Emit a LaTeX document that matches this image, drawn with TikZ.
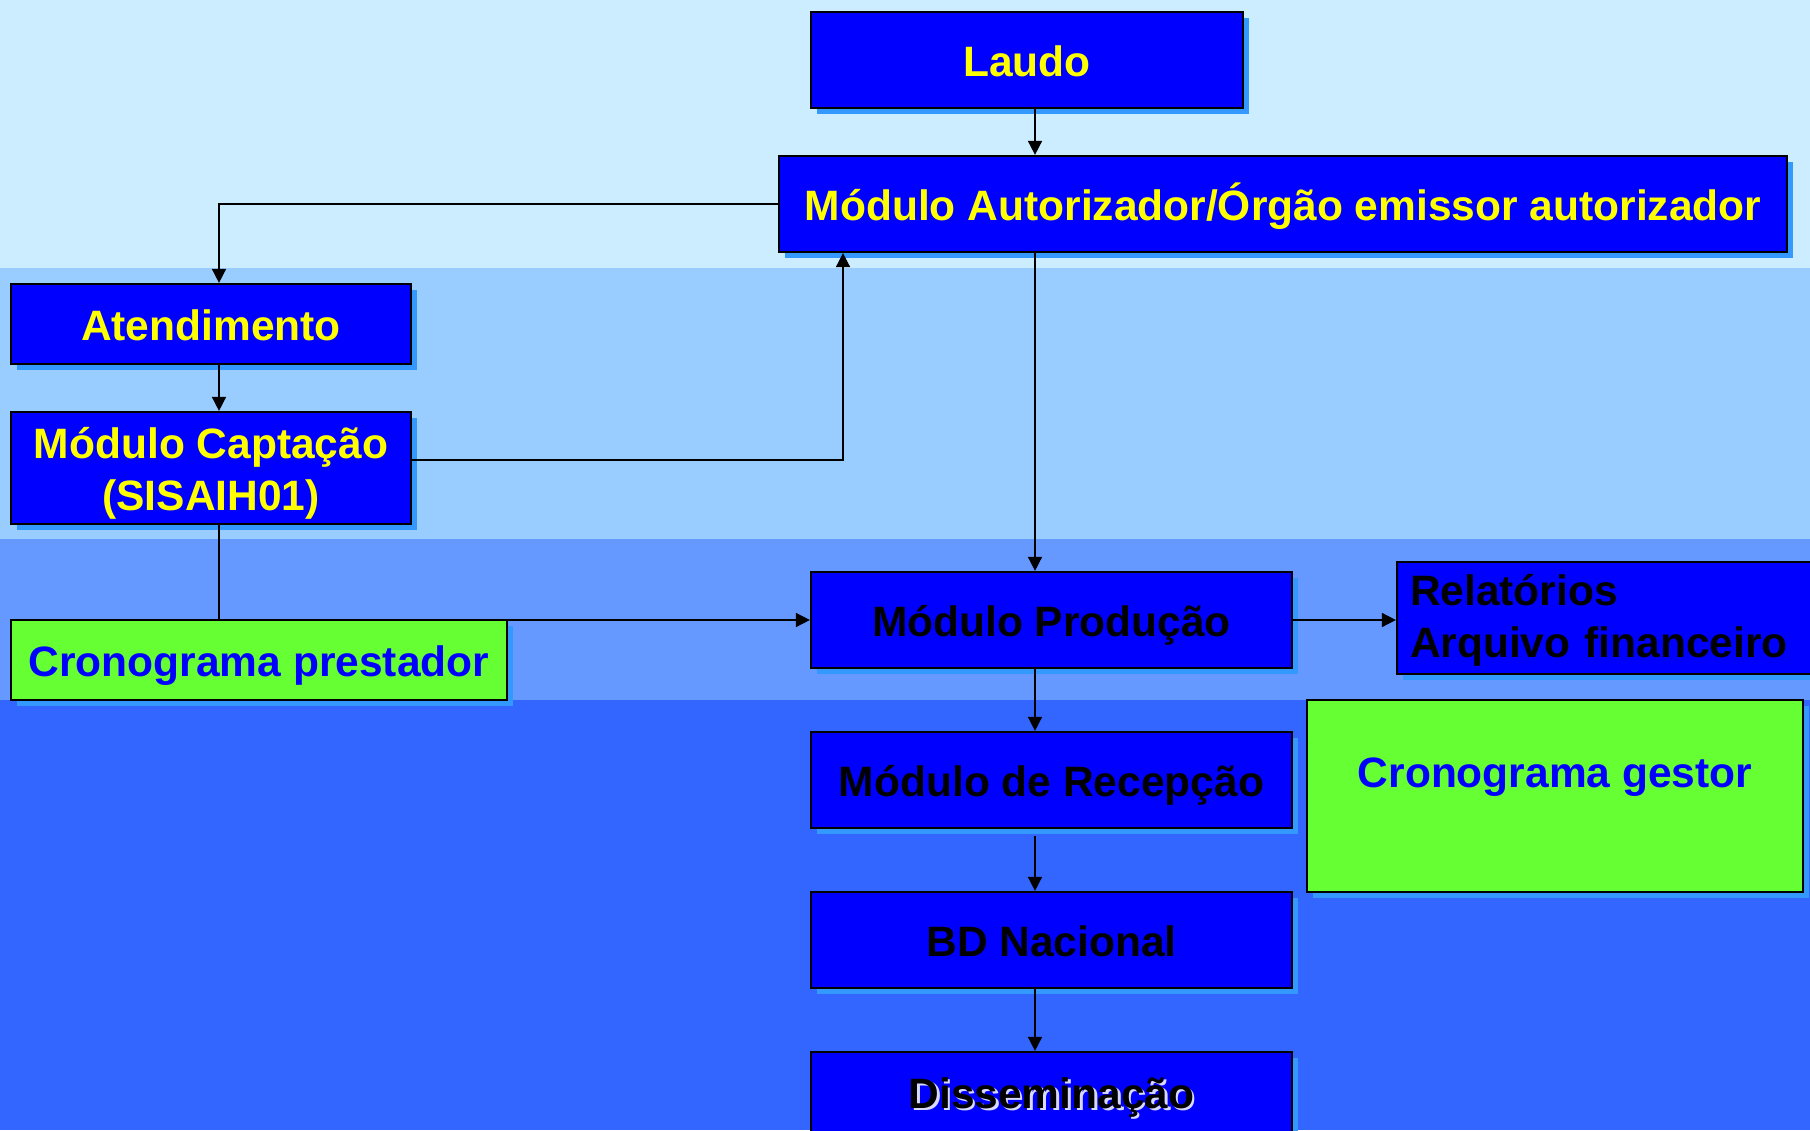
\documentclass[tikz,border=0pt]{standalone}
\usepackage{fontspec}
\setmainfont{Liberation Sans}
\usetikzlibrary{arrows.meta,shadows}
\definecolor{band1}{HTML}{CCECFF}
\definecolor{band2}{HTML}{99CCFF}
\definecolor{band3}{HTML}{6699FF}
\definecolor{band4}{HTML}{3366FF}
\definecolor{boxblue}{HTML}{0000FF}
\definecolor{boxgreen}{HTML}{66FF33}
\definecolor{shade}{HTML}{3399FF}
\definecolor{txtyellow}{HTML}{FFFF00}
\newcommand{\embossed}[1]{\rlap{\kern2.5pt\raisebox{-2.5pt}{\color{white!85!blue}#1}}#1}

\begin{document}
\begin{tikzpicture}[x=1pt,y=-1pt,node distance=160pt,
    >={Triangle[length=14pt,width=14pt]},
    box/.style={draw,line width=2.2pt,fill=boxblue,inner sep=0pt,
      font=\fontsize{42.5}{52}\selectfont\bfseries,text height=32pt,text depth=0pt,
      drop shadow={shadow xshift=6pt,shadow yshift=-6pt,fill=shade,opacity=1},
      minimum width=481pt,minimum height=96pt},
    gbox/.style={box,fill=boxgreen,text=boxblue},
    link/.style={line width=1.6pt}]
      \useasboundingbox (0,0) rectangle (1810,1130);
      \clip (0,0) rectangle (1810,1130);
      \fill[band1] (0,0) rectangle (1810,268);
      \fill[band2] (0,268) rectangle (1810,539);
      \fill[band3] (0,539) rectangle (1810,700);
      \fill[band4] (0,700) rectangle (1810,1130);
      \coordinate (p) at (219,0);
      \coordinate (q) at (1035,0);
      \coordinate (r) at (843,0);

      \node [box,text=txtyellow,minimum width=432pt] (1) at (1027,60) {Laudo};
      \node [box,text=txtyellow,minimum width=1008pt] (2) at (1283,204) {Módulo Autorizador/Órgão emissor autorizador};
      \node [box,text=txtyellow,minimum width=400pt,minimum height=80pt] (3) at (211,324) {Atendimento};
      \node [box,text=txtyellow,minimum width=400pt,minimum height=112pt,text height=84pt,text depth=0pt,align=center,below of=3,yshift=16pt] (4) {Módulo Captação\\(SISAIH01)};
      \node [gbox,minimum width=496pt,minimum height=80pt] (5) at (259,660) {Cronograma prestador};
      \node [box] (6) at (1051.5,620) {Módulo Produção};
      \node [box,minimum width=440pt,minimum height=112pt,text width=414pt,text height=30pt,text depth=56pt,align=left] (7) at (1617,618) {Relatórios\\Arquivo financeiro};
      \node [box,below of=6] (8) {Módulo de Recepção};
      \node [gbox,minimum width=496pt,minimum height=192pt,text height=30pt,text depth=48pt] (9) at (1555,796) {Cronograma gestor};
      \node [box,below of=8] (10) {BD Nacional};
      \node [box,text depth=16pt,below of=10] (11) {\embossed{Disseminação}};

      \draw[link,->] (1.south -| q) -- (2.north -| q);
      \draw[link,->] (2.west) -| (3.north -| p);
      \draw[link,->] (3.south -| p) -- (4.north -| p);
      \draw[link,->] ([yshift=8pt]4.east) -| (2.south -| r);
      \draw[link,->] (2.south -| q) -- (6.north -| q);
      \draw[link,->] (4.south -| p) |- (6.west);
      \draw[link,->] (6.east) -- (6.east -| 7.west);
      \draw[link,->] (6.south -| q) -- (8.north -| q);
      \draw[link,->,shorten <=7pt] (8.south -| q) -- (10.north -| q);
      \draw[link,->] (10.south -| q) -- (11.north -| q);
    \end{tikzpicture}
\end{document}
